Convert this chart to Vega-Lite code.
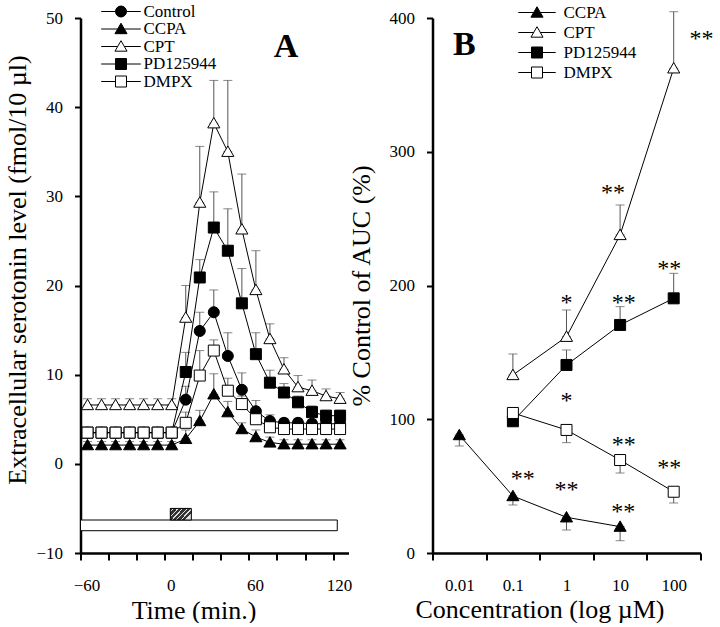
{
  "$schema": "https://vega.github.io/schema/vega-lite/v6.json",
  "background": "white",
  "padding": {"left": 3.5, "right": 2, "top": 3, "bottom": 0},
  "spacing": -4,
  "datasets": {
    "a": [
      {"s": "Control", "t": -55, "v": 3.5, "e": 4.0}, {"s": "Control", "t": -45, "v": 3.5, "e": 4.0}, {"s": "Control", "t": -35, "v": 3.5, "e": 4.0}, {"s": "Control", "t": -25, "v": 3.5, "e": 4.0}, {"s": "Control", "t": -15, "v": 3.5, "e": 4.0}, {"s": "Control", "t": -5, "v": 3.5, "e": 4.0}, {"s": "Control", "t": 5, "v": 3.5, "e": 4.0},
      {"s": "Control", "t": 15, "v": 7.2, "e": 8.7}, {"s": "Control", "t": 25, "v": 14.9, "e": 17.0}, {"s": "Control", "t": 35, "v": 17.0, "e": 19.5}, {"s": "Control", "t": 45, "v": 12.1, "e": 14.7}, {"s": "Control", "t": 55, "v": 8.3, "e": 10.2}, {"s": "Control", "t": 65, "v": 5.9, "e": 7.1}, {"s": "Control", "t": 75, "v": 4.8, "e": 5.5}, {"s": "Control", "t": 85, "v": 4.6, "e": 5.1}, {"s": "Control", "t": 95, "v": 4.6, "e": 5.1}, {"s": "Control", "t": 105, "v": 4.5, "e": 5.0}, {"s": "Control", "t": 115, "v": 4.5, "e": 5.0}, {"s": "Control", "t": 125, "v": 4.5, "e": 5.0},
      {"s": "PD125944", "t": -55, "v": 3.5, "e": 3.9}, {"s": "PD125944", "t": -45, "v": 3.5, "e": 3.9}, {"s": "PD125944", "t": -35, "v": 3.5, "e": 3.9}, {"s": "PD125944", "t": -25, "v": 3.5, "e": 3.9}, {"s": "PD125944", "t": -15, "v": 3.5, "e": 3.9}, {"s": "PD125944", "t": -5, "v": 3.5, "e": 3.9}, {"s": "PD125944", "t": 5, "v": 3.5, "e": 3.9},
      {"s": "PD125944", "t": 15, "v": 10.3, "e": 12.5}, {"s": "PD125944", "t": 25, "v": 20.9, "e": 22.9}, {"s": "PD125944", "t": 35, "v": 26.5, "e": 30.5}, {"s": "PD125944", "t": 45, "v": 23.9, "e": 28.6}, {"s": "PD125944", "t": 55, "v": 18.0, "e": 21.9}, {"s": "PD125944", "t": 65, "v": 12.3, "e": 14.7}, {"s": "PD125944", "t": 75, "v": 9.1, "e": 10.5}, {"s": "PD125944", "t": 85, "v": 8.0, "e": 9.0}, {"s": "PD125944", "t": 95, "v": 6.9, "e": 7.6}, {"s": "PD125944", "t": 105, "v": 5.8, "e": 6.5}, {"s": "PD125944", "t": 115, "v": 5.4, "e": 6.0}, {"s": "PD125944", "t": 125, "v": 5.4, "e": 6.0},
      {"s": "CCPA", "t": -55, "v": 2.1, "e": 2.5}, {"s": "CCPA", "t": -45, "v": 2.1, "e": 2.5}, {"s": "CCPA", "t": -35, "v": 2.1, "e": 2.5}, {"s": "CCPA", "t": -25, "v": 2.1, "e": 2.5}, {"s": "CCPA", "t": -15, "v": 2.1, "e": 2.5}, {"s": "CCPA", "t": -5, "v": 2.1, "e": 2.5}, {"s": "CCPA", "t": 5, "v": 2.1, "e": 2.5},
      {"s": "CCPA", "t": 15, "v": 2.8, "e": 3.8}, {"s": "CCPA", "t": 25, "v": 4.8, "e": 6.0}, {"s": "CCPA", "t": 35, "v": 7.8, "e": 10.1}, {"s": "CCPA", "t": 45, "v": 5.8, "e": 7.0}, {"s": "CCPA", "t": 55, "v": 3.9, "e": 4.6}, {"s": "CCPA", "t": 65, "v": 3.0, "e": 3.8}, {"s": "CCPA", "t": 75, "v": 2.4, "e": 3.0}, {"s": "CCPA", "t": 85, "v": 2.2, "e": 2.7}, {"s": "CCPA", "t": 95, "v": 2.2, "e": 2.7}, {"s": "CCPA", "t": 105, "v": 2.2, "e": 2.7}, {"s": "CCPA", "t": 115, "v": 2.2, "e": 2.7}, {"s": "CCPA", "t": 125, "v": 2.2, "e": 2.7},
      {"s": "CPT", "t": -55, "v": 6.6, "e": 7.3}, {"s": "CPT", "t": -45, "v": 6.6, "e": 7.3}, {"s": "CPT", "t": -35, "v": 6.6, "e": 7.3}, {"s": "CPT", "t": -25, "v": 6.6, "e": 7.3}, {"s": "CPT", "t": -15, "v": 6.6, "e": 7.3}, {"s": "CPT", "t": -5, "v": 6.6, "e": 7.3}, {"s": "CPT", "t": 5, "v": 6.6, "e": 7.3},
      {"s": "CPT", "t": 15, "v": 16.4, "e": 20.0}, {"s": "CPT", "t": 25, "v": 29.3, "e": 35.6}, {"s": "CPT", "t": 35, "v": 38.2, "e": 43.0}, {"s": "CPT", "t": 45, "v": 35.0, "e": 43.0}, {"s": "CPT", "t": 55, "v": 26.3, "e": 32.5}, {"s": "CPT", "t": 65, "v": 19.5, "e": 23.9}, {"s": "CPT", "t": 75, "v": 14.0, "e": 15.7}, {"s": "CPT", "t": 85, "v": 10.6, "e": 11.9}, {"s": "CPT", "t": 95, "v": 8.6, "e": 9.9}, {"s": "CPT", "t": 105, "v": 8.2, "e": 9.4}, {"s": "CPT", "t": 115, "v": 7.6, "e": 8.4}, {"s": "CPT", "t": 125, "v": 7.3, "e": 8.0},
      {"s": "DMPX", "t": -55, "v": 3.5, "e": 4.0}, {"s": "DMPX", "t": -45, "v": 3.5, "e": 4.0}, {"s": "DMPX", "t": -35, "v": 3.5, "e": 4.0}, {"s": "DMPX", "t": -25, "v": 3.5, "e": 4.0}, {"s": "DMPX", "t": -15, "v": 3.5, "e": 4.0}, {"s": "DMPX", "t": -5, "v": 3.5, "e": 4.0}, {"s": "DMPX", "t": 5, "v": 3.5, "e": 4.0},
      {"s": "DMPX", "t": 15, "v": 4.6, "e": 5.8}, {"s": "DMPX", "t": 25, "v": 9.9, "e": 12.7}, {"s": "DMPX", "t": 35, "v": 12.7, "e": 13.9}, {"s": "DMPX", "t": 45, "v": 8.2, "e": 9.6}, {"s": "DMPX", "t": 55, "v": 6.7, "e": 7.6}, {"s": "DMPX", "t": 65, "v": 5.0, "e": 5.8}, {"s": "DMPX", "t": 75, "v": 4.1, "e": 4.8}, {"s": "DMPX", "t": 85, "v": 3.9, "e": 4.4}, {"s": "DMPX", "t": 95, "v": 3.9, "e": 4.4}, {"s": "DMPX", "t": 105, "v": 3.9, "e": 4.4}, {"s": "DMPX", "t": 115, "v": 3.9, "e": 4.4}, {"s": "DMPX", "t": 125, "v": 3.9, "e": 4.4}
    ],
    "abars": [
      {"k": "open", "t": -60, "t2": 123, "v": -7.5, "v2": -6.3},
      {"k": "drug", "t": 4, "t2": 19, "v": -6.3, "v2": -5.0}
    ],
    "alabel": [{"t": 86.4, "v": 45.6, "label": "A"}],
    "b": [
      {"s": "CCPA", "c": 0.01, "v": 88.2, "e": 80.0}, {"s": "CCPA", "c": 0.1, "v": 42.6, "e": 35.9}, {"s": "CCPA", "c": 1, "v": 26.7, "e": 17.2}, {"s": "CCPA", "c": 10, "v": 19.7, "e": 9.2},
      {"s": "PD125944", "c": 0.1, "v": 98.5}, {"s": "PD125944", "c": 1, "v": 140.6, "e": 151.8}, {"s": "PD125944", "c": 10, "v": 170.5, "e": 184.2}, {"s": "PD125944", "c": 100, "v": 190.4, "e": 209.1},
      {"s": "CPT", "c": 0.1, "v": 133.1, "e": 148.8}, {"s": "CPT", "c": 1, "v": 161.7, "e": 181.7}, {"s": "CPT", "c": 10, "v": 237.8, "e": 260.2}, {"s": "CPT", "c": 100, "v": 362.4, "e": 404.7},
      {"s": "DMPX", "c": 0.1, "v": 104.7}, {"s": "DMPX", "c": 1, "v": 92.0, "e": 82.5}, {"s": "DMPX", "c": 10, "v": 69.5, "e": 59.8}, {"s": "DMPX", "c": 100, "v": 45.8, "e": 37.4}
    ],
    "bnote": [
      {"c": 0.153, "v": 59.8, "label": "**"}, {"c": 1, "v": 51.6, "label": "**"}, {"c": 11.4, "v": 35.1, "label": "**"},
      {"c": 1, "v": 118.1, "label": "*"}, {"c": 11.7, "v": 85.2, "label": "**"}, {"c": 83, "v": 68.0, "label": "**"},
      {"c": 11.7, "v": 191.4, "label": "**"}, {"c": 83, "v": 216.8, "label": "**"},
      {"c": 1, "v": 191.4, "label": "*"}, {"c": 7.4, "v": 273.6, "label": "**"}, {"c": 330, "v": 388.8, "label": "**"}
    ],
    "blabel": [{"c": 0.0124, "v": 372.3, "label": "B"}]
  },
  "hconcat": [
    {
      "width": 268,
      "height": 535,
      "encoding": {
        "x": {"field": "t", "type": "quantitative", "scale": {"domain": [-60, 131], "nice": false, "zero": false},
          "axis": {"title": "Time (min.)", "values": [-60, -40, -20, 0, 20, 40, 60, 80, 100, 120], "labelExpr": "datum.value % 60 == 0 ? datum.label : ''", "labelOffset": 6, "titleX": 113, "titleY": 65, "titleBaseline": "alphabetic", "titleAlign": "center"}},
        "y": {"field": "v", "type": "quantitative", "scale": {"domain": [-10, 50], "nice": false, "zero": false},
          "axis": {"title": "Extracellular serotonin level (fmol/10 µl)", "values": [-10, 0, 10, 20, 30, 40, 50], "titleX": -55, "titleY": 251.5, "titleBaseline": "alphabetic", "titleAlign": "center", "titleAngle": -90}}
      },
      "resolve": {"scale": {"shape": "independent", "fill": "independent"}},
      "layer": [
        {"data": {"name": "abars"}, "transform": [{"filter": "datum.k == 'open'"}], "mark": {"type": "rect", "fill": "white", "stroke": "black", "strokeWidth": 1}, "encoding": {"x2": {"field": "t2"}, "y2": {"field": "v2"}}},
        {"data": {"name": "abars"}, "transform": [{"filter": "datum.k == 'drug'"}], "mark": {"type": "rect", "stroke": "black", "strokeWidth": 1,
          "fill": {"gradient": "linear", "x1": 0, "y1": 0, "x2": 1, "y2": 0.52, "stops": [
            {"offset": 0, "color": "#333"}, {"offset": 0.1, "color": "#333"}, {"offset": 0.1, "color": "#ddd"}, {"offset": 0.15, "color": "#ddd"}, {"offset": 0.15, "color": "#333"},
            {"offset": 0.27, "color": "#333"}, {"offset": 0.27, "color": "#ddd"}, {"offset": 0.32, "color": "#ddd"}, {"offset": 0.32, "color": "#333"},
            {"offset": 0.44, "color": "#333"}, {"offset": 0.44, "color": "#ddd"}, {"offset": 0.49, "color": "#ddd"}, {"offset": 0.49, "color": "#333"},
            {"offset": 0.61, "color": "#333"}, {"offset": 0.61, "color": "#ddd"}, {"offset": 0.66, "color": "#ddd"}, {"offset": 0.66, "color": "#333"},
            {"offset": 0.78, "color": "#333"}, {"offset": 0.78, "color": "#ddd"}, {"offset": 0.83, "color": "#ddd"}, {"offset": 0.83, "color": "#333"},
            {"offset": 0.95, "color": "#333"}, {"offset": 0.95, "color": "#ddd"}, {"offset": 1, "color": "#ddd"}]}},
          "encoding": {"x2": {"field": "t2"}, "y2": {"field": "v2"}}},
        {"data": {"name": "a"}, "mark": {"type": "errorbar", "color": "#555", "ticks": {"size": 9, "color": "#555"}}, "encoding": {"y2": {"field": "e"}}},
        {"data": {"name": "a"}, "mark": {"type": "line", "stroke": "black", "strokeWidth": 1}, "encoding": {"detail": {"field": "s", "type": "nominal"}}},
        {"data": {"name": "a"}, "mark": {"type": "point", "filled": true, "stroke": "black", "strokeWidth": 1, "size": 121, "opacity": 1},
          "encoding": {
            "shape": {"field": "s", "type": "nominal", "legend": null, "scale": {"domain": ["Control", "CCPA", "CPT", "PD125944", "DMPX"], "range": ["M1,0A1,1,0,1,1,-1,0A1,1,0,1,1,1,0Z", "M0,-1.05L1.1,0.85L-1.1,0.85Z", "M0,-1.05L1.1,0.85L-1.1,0.85Z", "M-1,-1L1,-1L1,1L-1,1Z", "M-1,-1L1,-1L1,1L-1,1Z"]}},
            "fill": {"field": "s", "type": "nominal", "legend": null, "scale": {"domain": ["Control", "CCPA", "CPT", "PD125944", "DMPX"], "range": ["black", "black", "white", "black", "white"]}}
          }},
        {"data": {"name": "a"}, "transform": [{"filter": "false"}], "mark": {"type": "point", "filled": true, "stroke": "black", "strokeWidth": 1, "size": 121, "opacity": 1},
          "encoding": {
            "shape": {"field": "s", "type": "nominal", "scale": {"domain": ["Control", "CCPA", "CPT", "PD125944", "DMPX"], "range": ["M-3.6,0L-1,0M1,0L3.6,0M1,0A1,1,0,1,1,-1,0A1,1,0,1,1,1,0Z", "M-3.6,0L-0.6,0M0.6,0L3.6,0M0,-1.05L1.1,0.85L-1.1,0.85Z", "M-3.6,0L-0.6,0M0.6,0L3.6,0M0,-1.05L1.1,0.85L-1.1,0.85Z", "M-3.6,0L-1,0M1,0L3.6,0M-1,-1L1,-1L1,1L-1,1Z", "M-3.6,0L-1,0M1,0L3.6,0M-1,-1L1,-1L1,1L-1,1Z"]},
              "legend": {"orient": "none", "legendX": 32, "legendY": -15, "title": null, "labelFont": "Liberation Serif", "labelFontSize": 17, "labelColor": "black", "symbolSize": 121, "symbolStrokeColor": "black", "symbolStrokeWidth": 1, "symbolOpacity": 1, "labelOffset": 14, "rowPadding": -0.5, "padding": 0,
                "encode": {"symbols": {"update": {"stroke": {"value": "black"}, "strokeWidth": {"value": 1}, "opacity": {"value": 1}, "fillOpacity": {"value": 1}, "strokeOpacity": {"value": 1}}}}}},
            "fill": {"field": "s", "type": "nominal", "scale": {"domain": ["Control", "CCPA", "CPT", "PD125944", "DMPX"], "range": ["black", "black", "white", "black", "white"]},
              "legend": {"orient": "none", "legendX": 32, "legendY": -15, "title": null, "labelFont": "Liberation Serif", "labelFontSize": 17, "labelColor": "black", "symbolSize": 121, "symbolStrokeColor": "black", "symbolStrokeWidth": 1, "symbolOpacity": 1, "labelOffset": 14, "rowPadding": -0.5, "padding": 0,
                "encode": {"symbols": {"update": {"stroke": {"value": "black"}, "strokeWidth": {"value": 1}, "opacity": {"value": 1}, "fillOpacity": {"value": 1}, "strokeOpacity": {"value": 1}}}}}}
          }},
        {"data": {"name": "alabel"}, "mark": {"type": "text", "font": "Liberation Serif", "fontSize": 34, "fontWeight": "bold", "align": "center", "baseline": "alphabetic", "fill": "black", "opacity": 1}, "encoding": {"text": {"field": "label"}}}
      ]
    },
    {
      "width": 268,
      "height": 535,
      "encoding": {
        "x": {"field": "c", "type": "quantitative", "scale": {"type": "log", "domain": [0.0031623, 316.23], "nice": false},
          "axis": {"title": "Concentration (log µM)", "values": [0.0031623, 0.01, 0.031623, 0.1, 0.31623, 1, 3.1623, 10, 31.623, 100, 316.23],
            "labelExpr": "abs(log(datum.value)/LN10 - round(log(datum.value)/LN10)) < 0.01 ? format(datum.value, '~g') : ''",
            "tickOpacity": {"condition": {"test": "abs(log(datum.value)/LN10 - round(log(datum.value)/LN10)) < 0.01", "value": 0}, "value": 1},
            "titleX": 107, "titleY": 64, "titleBaseline": "alphabetic", "titleAlign": "center"}},
        "y": {"field": "v", "type": "quantitative", "scale": {"domain": [0, 400], "nice": false, "zero": false},
          "axis": {"title": "% Control of AUC (%)", "values": [0, 100, 200, 300, 400], "titleX": -63, "titleY": 267.5, "titleBaseline": "alphabetic", "titleAlign": "center", "titleAngle": -90}}
      },
      "resolve": {"scale": {"shape": "independent", "fill": "independent"}},
      "layer": [
        {"data": {"name": "b"}, "transform": [{"filter": "isValid(datum.e)"}], "mark": {"type": "errorbar", "color": "#555", "ticks": {"size": 9, "color": "#555"}}, "encoding": {"y2": {"field": "e"}}},
        {"data": {"name": "b"}, "mark": {"type": "line", "stroke": "black", "strokeWidth": 1}, "encoding": {"detail": {"field": "s", "type": "nominal"}}},
        {"data": {"name": "b"}, "mark": {"type": "point", "filled": true, "stroke": "black", "strokeWidth": 1, "size": 121, "opacity": 1},
          "encoding": {
            "shape": {"field": "s", "type": "nominal", "legend": null, "scale": {"domain": ["CCPA", "CPT", "PD125944", "DMPX"], "range": ["M0,-1.05L1.1,0.85L-1.1,0.85Z", "M0,-1.05L1.1,0.85L-1.1,0.85Z", "M-1,-1L1,-1L1,1L-1,1Z", "M-1,-1L1,-1L1,1L-1,1Z"]}},
            "fill": {"field": "s", "type": "nominal", "legend": null, "scale": {"domain": ["CCPA", "CPT", "PD125944", "DMPX"], "range": ["black", "white", "black", "white"]}}
          }},
        {"data": {"name": "b"}, "transform": [{"filter": "false"}], "mark": {"type": "point", "filled": true, "stroke": "black", "strokeWidth": 1, "size": 121, "opacity": 1},
          "encoding": {
            "shape": {"field": "s", "type": "nominal", "scale": {"domain": ["CCPA", "CPT", "PD125944", "DMPX"], "range": ["M-3.4,0L-0.6,0M0.6,0L3.4,0M0,-1.05L1.1,0.85L-1.1,0.85Z", "M-3.4,0L-0.6,0M0.6,0L3.4,0M0,-1.05L1.1,0.85L-1.1,0.85Z", "M-3.4,0L-1,0M1,0L3.4,0M-1,-1L1,-1L1,1L-1,1Z", "M-3.4,0L-1,0M1,0L3.4,0M-1,-1L1,-1L1,1L-1,1Z"]},
              "legend": {"orient": "none", "legendX": 96, "legendY": -14, "title": null, "labelFont": "Liberation Serif", "labelFontSize": 17, "labelColor": "black", "symbolSize": 121, "symbolStrokeColor": "black", "symbolStrokeWidth": 1, "symbolOpacity": 1, "labelOffset": 18, "rowPadding": 2, "padding": 0,
                "encode": {"symbols": {"update": {"stroke": {"value": "black"}, "strokeWidth": {"value": 1}, "opacity": {"value": 1}, "fillOpacity": {"value": 1}, "strokeOpacity": {"value": 1}}}}}},
            "fill": {"field": "s", "type": "nominal", "scale": {"domain": ["CCPA", "CPT", "PD125944", "DMPX"], "range": ["black", "white", "black", "white"]},
              "legend": {"orient": "none", "legendX": 96, "legendY": -14, "title": null, "labelFont": "Liberation Serif", "labelFontSize": 17, "labelColor": "black", "symbolSize": 121, "symbolStrokeColor": "black", "symbolStrokeWidth": 1, "symbolOpacity": 1, "labelOffset": 18, "rowPadding": 2, "padding": 0,
                "encode": {"symbols": {"update": {"stroke": {"value": "black"}, "strokeWidth": {"value": 1}, "opacity": {"value": 1}, "fillOpacity": {"value": 1}, "strokeOpacity": {"value": 1}}}}}}
          }},
        {"data": {"name": "bnote"}, "mark": {"type": "text", "font": "Liberation Serif", "fontSize": 24, "align": "center", "baseline": "alphabetic", "dy": 13, "fill": "black", "opacity": 1}, "encoding": {"text": {"field": "label"}}},
        {"data": {"name": "blabel"}, "mark": {"type": "text", "font": "Liberation Serif", "fontSize": 34, "fontWeight": "bold", "align": "center", "baseline": "alphabetic", "fill": "black", "opacity": 1}, "encoding": {"text": {"field": "label"}}}
      ]
    }
  ],
  "config": {
    "font": "Liberation Serif",
    "view": {"stroke": null},
    "axis": {
      "grid": false, "domainColor": "black", "domainWidth": 2.5, "tickColor": "black", "tickWidth": 2, "tickSize": 6,
      "labelFont": "Liberation Serif", "labelFontSize": 17, "labelColor": "black", "labelPadding": 12, "labelFlush": false, "labelOverlap": false,
      "titleFont": "Liberation Serif", "titleFontSize": 26, "titleFontWeight": "normal", "titleColor": "black"
    },
    "axisX": {"tickSize": 7, "labelPadding": 17}
  }
}
